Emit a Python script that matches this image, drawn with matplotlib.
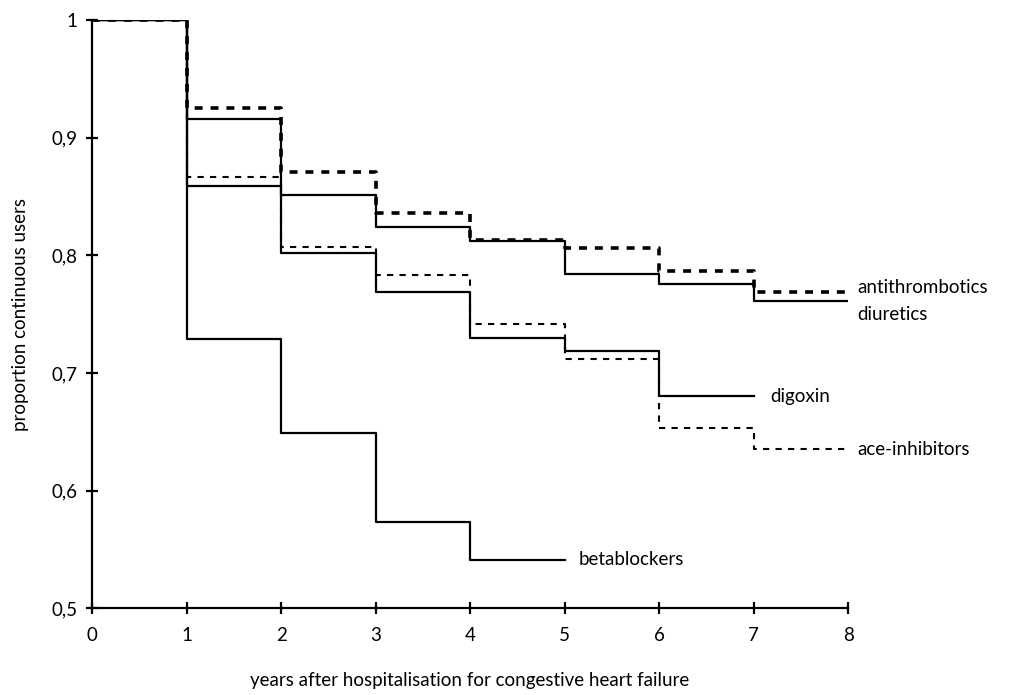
import matplotlib
matplotlib.use("Agg")
import matplotlib.pyplot as plt

plt.rcParams["font.family"] = ["Lato", "DejaVu Sans"]

# proportion of continuous users at the start of each year
antithrombotics = [1.0, 0.925, 0.871, 0.836, 0.813, 0.806, 0.787, 0.769]
diuretics = [1.0, 0.916, 0.851, 0.824, 0.812, 0.784, 0.776, 0.761]
ace_inhibitors = [1.0, 0.867, 0.807, 0.783, 0.742, 0.712, 0.653, 0.635]
digoxin = [1.0, 0.859, 0.802, 0.769, 0.730, 0.719, 0.680]
betablockers = [1.0, 0.729, 0.649, 0.573, 0.541]

x_ticks = [0, 1, 2, 3, 4, 5, 6, 7, 8]
y_ticks = [0.5, 0.6, 0.7, 0.8, 0.9, 1.0]
y_tick_labels = ["0,5", "0,6", "0,7", "0,8", "0,9", "1"]


def step_xy(values):
    # each value holds for one year; the last one extends to the next year
    xs = list(range(len(values) + 1))
    ys = values + [values[-1]]
    return xs, ys


def main():
    fig = plt.figure(figsize=(10.22, 6.95), dpi=100)
    ax = fig.add_axes([0.090, 0.125, 0.740, 0.846])

    series = [
        (antithrombotics, dict(linestyle=(0, (2.2, 2.2)), linewidth=2.6)),
        (diuretics, dict(linestyle="-", linewidth=1.6)),
        (ace_inhibitors, dict(linestyle=(0, (3, 3)), linewidth=1.5)),
        (digoxin, dict(linestyle="-", linewidth=1.6)),
        (betablockers, dict(linestyle="-", linewidth=1.6)),
    ]
    for values, style in series:
        xs, ys = step_xy(values)
        ax.step(xs, ys, where="post", color="black", **style)

    fs = 13.5
    label_kw = dict(fontsize=fs, va="center", ha="left")
    ax.text(8.1, antithrombotics[-1] + 0.004, "antithrombotics", **label_kw)
    ax.text(8.1, diuretics[-1] - 0.011, "diuretics", **label_kw)
    ax.text(7.17, digoxin[-1], "digoxin", **label_kw)
    ax.text(8.1, ace_inhibitors[-1], "ace-inhibitors", **label_kw)
    ax.text(5.15, betablockers[-1], "betablockers", **label_kw)

    ax.set_xlim(0, 8)
    ax.set_ylim(0.5, 1.0)
    ax.set_xticks(x_ticks)
    ax.set_xticklabels([str(t) for t in x_ticks])
    ax.set_yticks(y_ticks)
    ax.set_yticklabels(y_tick_labels)

    for side in ["top", "right"]:
        ax.spines[side].set_visible(False)
    for side in ["left", "bottom"]:
        ax.spines[side].set_linewidth(1.6)
    ax.tick_params(direction="inout", length=9, width=1.6, labelsize=fs)
    ax.tick_params(axis="x", pad=9)
    ax.tick_params(axis="y", pad=6)

    ax.set_xlabel("years after hospitalisation for congestive heart failure",
                  fontsize=fs, labelpad=20)
    ax.set_ylabel("proportion continuous users", fontsize=fs, labelpad=16)

    fig.savefig("out.png", dpi=100)


if __name__ == "__main__":
    main()
